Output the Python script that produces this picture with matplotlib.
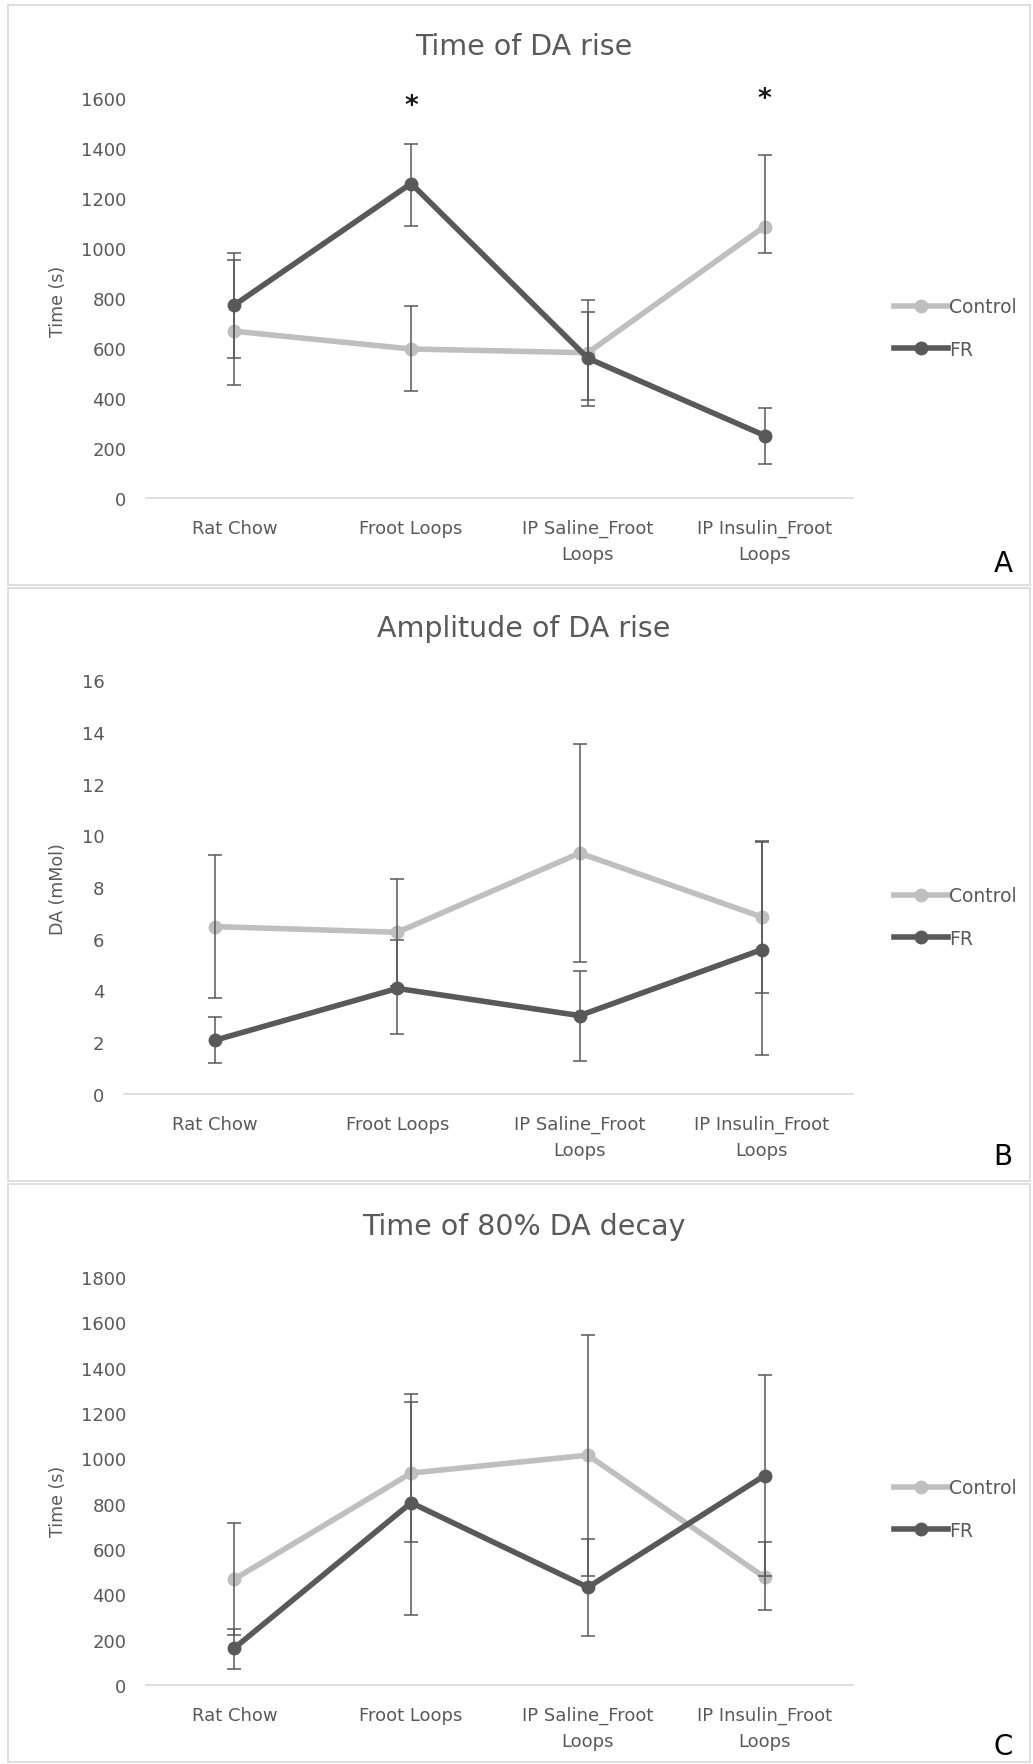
import matplotlib
matplotlib.use("Agg")
import matplotlib.pyplot as plt
from matplotlib.patches import Rectangle

plt.rcParams["font.family"] = ["DejaVu Sans"]

W, H = 1033, 1765

categories = ["Rat Chow", "Froot Loops", "IP Saline_Froot\nLoops", "IP Insulin_Froot\nLoops"]
series_names = ["Control", "FR"]

# Panel A: time of DA rise (s)
rise_control = [667, 596, 581, 1086]
rise_control_lo = [215, 166, 214, 106]
rise_control_hi = [284, 171, 210, 288]
rise_fr = [772, 1258, 559, 250]
rise_fr_lo = [213, 170, 166, 112]
rise_fr_hi = [208, 160, 187, 110]
rise_star_idx = [1, 3]
rise_star_y = [1566, 1596]

# Panel B: amplitude of DA rise (mMol)
amp_control = [6.47, 6.25, 9.31, 6.84]
amp_control_err = [2.76, 2.07, 4.21, 2.95]
amp_fr = [2.08, 4.08, 3.03, 5.58]
amp_fr_lo = [0.88, 1.78, 1.76, 4.09]
amp_fr_hi = [0.89, 1.87, 1.71, 4.17]

# Panel C: time of 80% DA decay (s)
decay_control = [467, 935, 1014, 475]
decay_control_lo = [248, 302, 532, 143]
decay_control_hi = [248, 314, 532, 156]
decay_fr = [163, 804, 431, 924]
decay_fr_lo = [94, 497, 217, 443]
decay_fr_hi = [84, 478, 213, 443]

light = "#BFBFBF"
dark = "#595959"
text_col = "#595959"

fig = plt.figure(figsize=(W / 100, H / 100), dpi=100)


def px_axes(left, top, right, bottom):
    return fig.add_axes([left / W, 1 - bottom / H, (right - left) / W, (bottom - top) / H])


def draw_panel(box, ax_box, title, title_y, ylabel, ylabel_y, ymax, ystep,
               ctrl, ctrl_err, fr, fr_err, leg_y, letter, letter_y):
    # panel frame
    fig.patches.append(Rectangle((8 / W, 1 - box[1] / H), (W - 11) / W, (box[1] - box[0]) / H,
                                 transform=fig.transFigure, fill=False,
                                 edgecolor="#D9D9D9", linewidth=1.2))
    ax = px_axes(*ax_box)
    x = list(range(len(categories)))
    h1, = ax.plot(x, ctrl, color=light, lw=4, marker="o", ms=9, zorder=2, label=series_names[0])
    h2, = ax.plot(x, fr, color=dark, lw=4, marker="o", ms=9, zorder=3, label=series_names[1])
    ax.errorbar(x, ctrl, yerr=ctrl_err, fmt="none", ecolor="#595959", elinewidth=1.1,
                capsize=5, capthick=1.1, zorder=4)
    ax.errorbar(x, fr, yerr=fr_err, fmt="none", ecolor="#595959", elinewidth=1.1,
                capsize=5, capthick=1.1, zorder=4)
    ax.set_xlim(-0.5, len(categories) - 0.5)
    ax.set_ylim(0, ymax)
    ax.set_yticks([i * ystep for i in range(int(round(ymax / ystep)) + 1)])
    ax.set_xticks(x)
    ax.set_xticklabels(categories, linespacing=1.55)
    ax.tick_params(length=0, labelsize=13, labelcolor=text_col)
    ax.tick_params(axis="y", pad=14)
    ax.tick_params(axis="x", pad=15)
    for s in ["top", "right", "left"]:
        ax.spines[s].set_visible(False)
    ax.spines["bottom"].set_color("#D9D9D9")
    ax.spines["bottom"].set_linewidth(1.2)
    ax.patch.set_alpha(0)

    fig.text(524 / W, 1 - title_y / H, title, ha="center", va="center",
             fontsize=20.5, color=text_col)
    fig.text(58 / W, 1 - ylabel_y / H, ylabel, ha="center", va="center", rotation=90,
             fontsize=12.5, color=text_col)
    fig.legend(handles=[h1, h2], loc="center left",
               bbox_to_anchor=(894 / W, 1 - leg_y / H), frameon=False,
               fontsize=13.5, labelcolor=text_col, handlelength=2.9, handletextpad=0.05,
               labelspacing=1.25, borderpad=0, borderaxespad=0)
    fig.text(1003 / W, 1 - letter_y / H, letter, ha="center", va="center",
             fontsize=20, color="black")
    return ax


ax_a = draw_panel((6, 586), (146, 99, 853, 499), "Time of DA rise", 47, "Time (s)", 301,
                  1600, 200, rise_control, [rise_control_lo, rise_control_hi],
                  rise_fr, [rise_fr_lo, rise_fr_hi], 329, "A", 564)
for i, yv in zip(rise_star_idx, rise_star_y):
    ax_a.text(i, yv, "*", ha="center", va="center", fontsize=19, color="#1a1a1a",
              fontweight="bold")

draw_panel((589, 1182), (124, 681, 853, 1095), "Amplitude of DA rise", 629, "DA (mMol)", 889,
           16, 2, amp_control, amp_control_err, amp_fr, [amp_fr_lo, amp_fr_hi],
           918, "B", 1157)

draw_panel((1185, 1763), (146, 1278, 853, 1686), "Time of 80% DA decay", 1227, "Time (s)", 1501,
           1800, 200, decay_control, [decay_control_lo, decay_control_hi],
           decay_fr, [decay_fr_lo, decay_fr_hi], 1510, "C", 1747)

fig.savefig("out.png", dpi=100)
